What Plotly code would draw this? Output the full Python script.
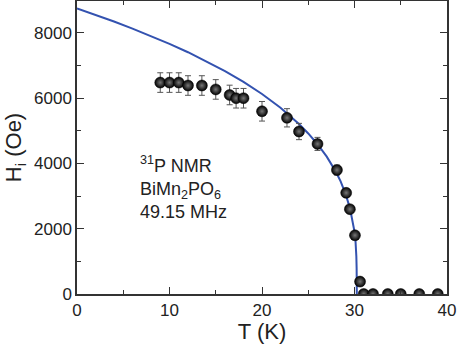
import plotly.graph_objects as go

# datos medidos (T en K, Hi en Oe)
temp = [9.0, 10.0, 11.0, 12.0, 13.5, 15.0, 16.5, 17.2, 18.0, 20.0, 22.7, 24.0,
        26.0, 28.1, 29.1, 29.5, 30.05, 30.6, 31.0, 32.0, 33.6, 35.0, 37.0, 39.0]
campo = [6480, 6480, 6480, 6390, 6390, 6270, 6100, 6000, 6000, 5600, 5400, 4980,
         4600, 3800, 3100, 2600, 1800, 380, 0, 0, 0, 0, 0, 0]
error = [300, 300, 300, 300, 300, 300, 300, 300, 300, 300, 280, 250,
         200, 150, 120, 100, 80, 60, 0, 0, 0, 0, 0, 0]

# curva de ajuste
t_ajuste = [0, 2, 4, 6, 8, 10, 12, 14, 16, 18, 20, 22, 24, 25, 26, 27, 28,
            28.5, 29, 29.5, 29.8, 30.0, 30.1, 30.15, 30.2, 30.23, 30.25]
h_ajuste = [8750, 8555, 8350, 8135, 7910, 7665, 7410, 7130, 6830, 6500, 6130,
            5710, 5210, 4920, 4590, 4210, 3740, 3450, 3095, 2640, 2260, 1910,
            1670, 1470, 1150, 780, 0]

fig = go.Figure()
fig.add_trace(go.Scatter(x=t_ajuste, y=h_ajuste, mode='lines',
                         line=dict(color='#3352b0', width=2), hoverinfo='skip'))
fig.add_trace(go.Scatter(
    x=temp, y=campo, mode='markers',
    error_y=dict(type='data', array=error, color='#555555', thickness=1, width=3),
    marker=dict(size=11, color='#000000', line=dict(color='#000000', width=0.5),
                gradient=dict(type='radial', color='#777777'))))

eje = dict(showline=True, linecolor='#333333', linewidth=1.5, mirror='ticks',
           ticks='inside', ticklen=7, tickcolor='#333333', tickwidth=1.2,
           showgrid=False, zeroline=False, automargin=False,
           tickfont=dict(family='Liberation Sans, Arial', size=17, color='#222222'),
           minor=dict(ticks='inside', ticklen=4, tickcolor='#333333', tickwidth=1))

fig.update_layout(
    width=457, height=344, showlegend=False,
    margin=dict(l=77, r=10, t=1, b=50),
    plot_bgcolor='white', paper_bgcolor='white',
    xaxis=dict(eje, range=[0, 40], dtick=10, minor=dict(eje['minor'], dtick=5),
               title=dict(text='T (K)', standoff=6,
                          font=dict(family='Liberation Sans, Arial', size=22, color='#222222'))),
    yaxis=dict(eje, range=[0, 8980], dtick=2000, minor=dict(eje['minor'], dtick=1000),
               title=dict(text='H<sub>i</sub> (Oe)', standoff=6,
                          font=dict(family='Liberation Sans, Arial', size=22, color='#222222'))),
)

# texto dentro del grafico
fig.add_annotation(x=0.165, y=0.487, xref='paper', yref='paper', xanchor='left', yanchor='top',
                   align='left', showarrow=False,
                   text='<sup>31</sup>P NMR<br>BiMn<sub>2</sub>PO<sub>6</sub><br>49.15 MHz',
                   font=dict(family='Liberation Sans, Arial', size=18, color='#222222'))

# quitar el margen del body para que la figura quede en la esquina
fig.write_html("out.html", config={'displayModeBar': False},
               post_script="document.body.style.margin='0';")
